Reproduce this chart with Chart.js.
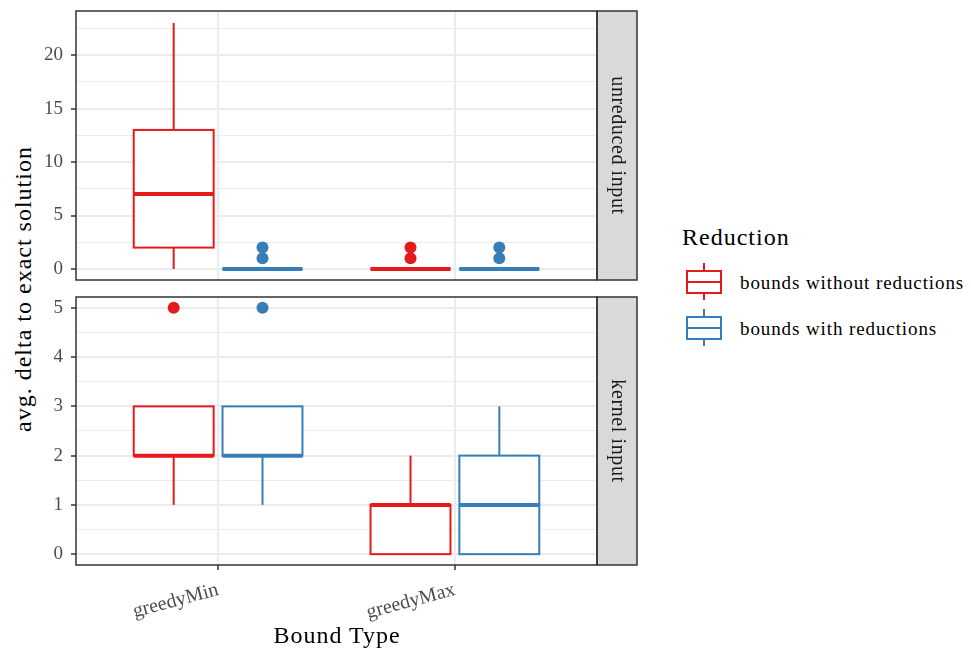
<!DOCTYPE html>
<html>
<head>
<meta charset="utf-8">
<script src="https://cdn.jsdelivr.net/npm/chart.js@4.4.0/dist/chart.umd.min.js"></script>
<style>
  body { margin:0; background:#fff; width:971px; height:653px; position:relative; overflow:hidden; font-family:'Liberation Serif', serif; }
  canvas { position:absolute; left:0; }
  .txt { position:absolute; white-space:nowrap; color:#000; }
  #ytitle { left:23px; top:289px; font-size:24px; line-height:24px; letter-spacing:1px; transform:translate(-50%,-50%) rotate(-90deg); }
  #xtitle { left:337px; top:623px; font-size:24px; line-height:24px; letter-spacing:1px; transform:translateX(-50%); }
  #legend-title { left:682px; top:225px; font-size:24px; line-height:24px; letter-spacing:1px; }
  .key { position:absolute; left:686px; width:36px; height:37px; }
  .key div { position:absolute; box-sizing:border-box; }
  .key-label { position:absolute; left:740px; font-size:19px; line-height:19px; letter-spacing:0.9px; color:#000; white-space:nowrap; }
</style>
</head>
<body>
<div class="txt" id="ytitle">avg. delta to exact solution</div>
<canvas id="top" width="640" height="290" style="top:0"></canvas>
<canvas id="bottom" width="640" height="363" style="top:290px"></canvas>
<div class="txt" id="xtitle">Bound Type</div>
<div class="txt" id="legend-title">Reduction</div>
<div id="legend"></div>
<script>
const categories = ['greedyMin', 'greedyMax'];
const seriesNames = ['bounds without reductions', 'bounds with reductions'];
const panelNames = ['unreduced input', 'kernel input'];

// [min, q1, median, q3, max] for each category
const unreducedWithout = [[0, 2, 7, 13, 23], [0, 0, 0, 0, 0]];
const unreducedWith = [[0, 0, 0, 0, 0], [0, 0, 0, 0, 0]];
const kernelWithout = [[1, 2, 2, 3, 3], [0, 0, 1, 1, 2]];
const kernelWith = [[1, 2, 2, 3, 3], [0, 0, 1, 2, 3]];

// outliers for each category
const unreducedWithoutOut = [[], [1, 2]];
const unreducedWithOut = [[1, 2], [1, 2]];
const kernelWithoutOut = [[5], []];
const kernelWithOut = [[5], []];

const unreducedTicks = [0, 5, 10, 15, 20];
const unreducedMinor = [2.5, 7.5, 12.5, 17.5, 22.5];
const kernelTicks = [0, 1, 2, 3, 4, 5];
const kernelMinor = [0.5, 1.5, 2.5, 3.5, 4.5];

const colors = ['#E41A1C', '#377EB8'];
const dodge = [-0.1875, 0.1875];
const boxHalf = 0.16875;

Chart.defaults.font.family = "'Liberation Serif', serif";

function makeDataset(stats, outliers, s) {
    return {
        label: seriesNames[s],
        stats: stats,
        offset: dodge[s],
        color: colors[s],
        data: outliers.flatMap((vals, i) => vals.map(v => ({ x: i + 1 + dodge[s], y: v }))),
        pointRadius: 6,
        pointHoverRadius: 6,
        backgroundColor: colors[s],
        borderWidth: 0
    };
}

// box + whiskers, drawn under the outlier points
const boxPlugin = {
    id: 'boxes',
    beforeDatasetsDraw(chart) {
        const { ctx, scales: { x, y } } = chart;
        chart.data.datasets.forEach(ds => {
            ds.stats.forEach((st, i) => {
                const [mn, q1, md, q3, mx] = st;
                const cx = i + 1 + ds.offset;
                const l = x.getPixelForValue(cx - boxHalf);
                const r = x.getPixelForValue(cx + boxHalf);
                const c = x.getPixelForValue(cx);
                const py = v => y.getPixelForValue(v);
                ctx.save();
                ctx.strokeStyle = ds.color;
                ctx.lineWidth = 2;
                ctx.beginPath();
                ctx.moveTo(c, py(q3)); ctx.lineTo(c, py(mx));
                ctx.moveTo(c, py(q1)); ctx.lineTo(c, py(mn));
                ctx.stroke();
                ctx.fillStyle = '#fff';
                ctx.fillRect(l, py(q3), r - l, py(q1) - py(q3));
                ctx.strokeRect(l, py(q3), r - l, py(q1) - py(q3));
                ctx.lineWidth = 4;
                ctx.beginPath();
                ctx.moveTo(l, py(md)); ctx.lineTo(r, py(md));
                ctx.stroke();
                ctx.restore();
            });
        });
    }
};

// panel border and facet strip on the right
const stripPlugin = {
    id: 'strip',
    afterDraw(chart, args, opts) {
        const { ctx, chartArea: a } = chart;
        ctx.save();
        ctx.fillStyle = '#D9D9D9';
        ctx.fillRect(a.right, a.top, 40, a.bottom - a.top);
        ctx.strokeStyle = '#333';
        ctx.lineWidth = 1.5;
        ctx.strokeRect(a.right, a.top, 40, a.bottom - a.top);
        ctx.strokeRect(a.left, a.top, a.right - a.left, a.bottom - a.top);
        ctx.translate(a.right + 20, (a.top + a.bottom) / 2);
        ctx.rotate(Math.PI / 2);
        ctx.fillStyle = '#1A1A1A';
        ctx.font = "20px 'Liberation Serif'";
        ctx.letterSpacing = '0.6px';
        ctx.textAlign = 'center';
        ctx.textBaseline = 'middle';
        ctx.fillText(opts.label, 0, 0);
        ctx.restore();
    }
};

function yScale(majors, minors, min, max) {
    const isMajor = v => majors.includes(v);
    return {
        min: min, max: max,
        afterBuildTicks: s => { s.ticks = majors.concat(minors).sort((a, b) => a - b).map(v => ({ value: v })); },
        afterFit: s => { s.width = 76; s.paddingTop = 0; s.paddingBottom = 0; },
        ticks: {
            autoSkip: false,
            callback: v => isMajor(v) ? String(v) : '',
            color: '#4D4D4D',
            font: { size: 19 },
            padding: 8
        },
        grid: {
            color: '#EBEBEB',
            lineWidth: c => (c.tick && isMajor(c.tick.value)) ? 2 : 1,
            tickColor: c => (c.tick && isMajor(c.tick.value)) ? '#333' : 'rgba(0,0,0,0)',
            tickLength: 5,
            tickWidth: 1.5
        },
        border: { display: false }
    };
}

function xScale(showAxis) {
    return {
        type: 'linear',
        min: 0.4, max: 2.6,
        afterBuildTicks: s => { s.ticks = categories.map((c, i) => ({ value: i + 1 })); },
        afterFit: s => { s.height = showAxis ? 88 : 0; s.paddingLeft = 0; s.paddingRight = 0; },
        ticks: {
            display: showAxis,
            autoSkip: false,
            callback: v => categories[v - 1],
            minRotation: 15, maxRotation: 15,
            color: '#4D4D4D',
            font: { size: 20 },
            padding: 8
        },
        grid: {
            color: '#EBEBEB',
            lineWidth: 2,
            drawTicks: showAxis,
            tickLength: 5,
            tickColor: '#333',
            tickWidth: 1.5
        },
        border: { display: false }
    };
}

function makeChart(id, datasets, label, y, showAxis, pad) {
    return new Chart(document.getElementById(id), {
        type: 'scatter',
        data: { datasets: datasets },
        options: {
            responsive: false,
            animation: false,
            devicePixelRatio: 1,
            layout: { padding: pad },
            scales: { x: xScale(showAxis), y: y },
            plugins: {
                legend: { display: false },
                tooltip: { enabled: false },
                strip: { label: label }
            }
        },
        plugins: [boxPlugin, stripPlugin]
    });
}

makeChart('top', [
    makeDataset(unreducedWithout, unreducedWithoutOut, 0),
    makeDataset(unreducedWith, unreducedWithOut, 1)
], panelNames[0], yScale(unreducedTicks, unreducedMinor, -1.03, 24.12), false,
    { top: 11, right: 43, bottom: 10, left: 0 });

makeChart('bottom', [
    makeDataset(kernelWithout, kernelWithoutOut, 0),
    makeDataset(kernelWith, kernelWithOut, 1)
], panelNames[1], yScale(kernelTicks, kernelMinor, -0.22, 5.22), true,
    { top: 7, right: 43, bottom: 0, left: 0 });

// legend keys
const legend = document.getElementById('legend');
seriesNames.forEach((name, s) => {
    const top = 263 + s * 46;
    const c = colors[s];
    legend.insertAdjacentHTML('beforeend', `
        <div class="key" style="top:${top}px">
            <div style="left:17px;top:0;width:2px;height:8px;background:${c}"></div>
            <div style="left:0;top:7px;width:36px;height:24px;border:2px solid ${c}"></div>
            <div style="left:0;top:18px;width:36px;height:2px;background:${c}"></div>
            <div style="left:17px;top:30px;width:2px;height:7px;background:${c}"></div>
        </div>
        <div class="key-label" style="top:${top + 10}px">${name}</div>
    `);
});
</script>
</body>
</html>
